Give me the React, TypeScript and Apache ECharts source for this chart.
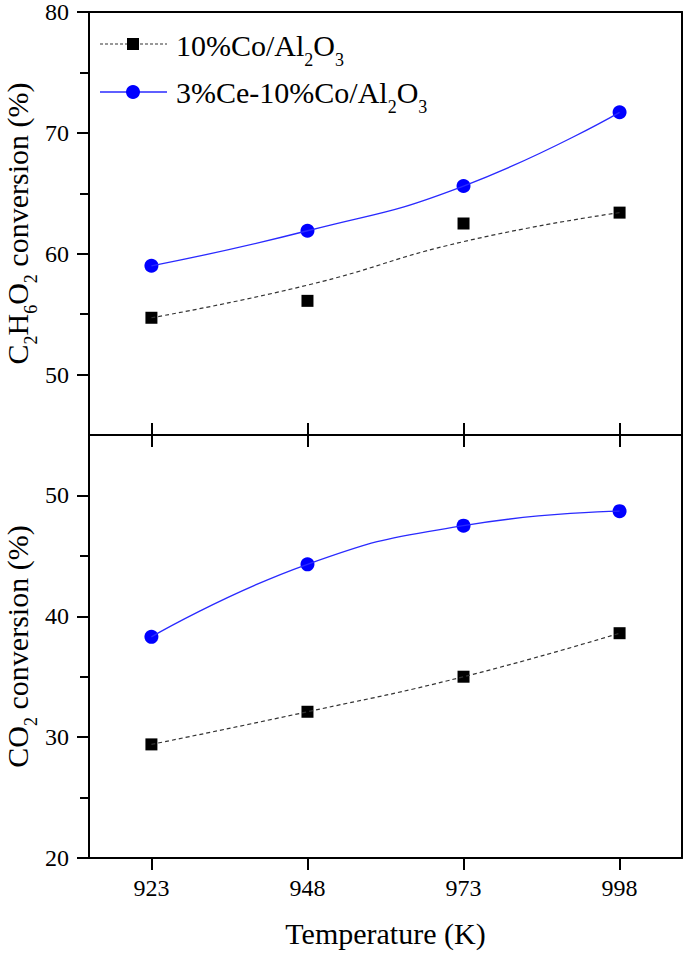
import React, { useEffect, useRef } from 'react';
import * as echarts from 'echarts';

// ---- data ----
const temperatures = [923, 948, 973, 998];
const tickTemps = [923, 948, 973, 998];
const c2h6o2Co = [54.7, 56.1, 62.5, 63.4];
const c2h6o2CoFit = [54.7, 57.4, 61.0, 63.4];
const c2h6o2CeCo = [59.0, 61.9, 65.6, 71.7];
const co2Co = [29.4, 32.1, 35.0, 38.6];
const co2CeCo = [38.3, 44.3, 47.5, 48.7];
const topMajorTicks = [50, 60, 70, 80];
const topMinorTicks = [55, 65, 75];
const bottomMajorTicks = [20, 30, 40, 50];
const bottomMinorTicks = [25, 35, 45];
const legendNames = ['10%Co/Al_2O_3', '3%Ce-10%Co/Al_2O_3'];
const topTitle = 'C_2H_6O_2 conversion (%)';
const bottomTitle = 'CO_2 conversion (%)';
const xTitle = 'Temperature (K)';

const FONT = 'Liberation Serif';
const BLUE = '#0000ff';
const LINE_BLUE = '#2a2aff';
const DASH = '#333333';

type Seg = { t: string; sub: boolean };
function parseSegs(s: string): Seg[] {
  const segs: Seg[] = [];
  for (let i = 0; i < s.length; i++) {
    if (s[i] === '_') {
      segs.push({ t: s[i + 1], sub: true });
      i++;
    } else if (segs.length && !segs[segs.length - 1].sub) {
      segs[segs.length - 1].t += s[i];
    } else {
      segs.push({ t: s[i], sub: false });
    }
  }
  return segs;
}

let ctx: CanvasRenderingContext2D | null = null;
function measure(t: string, size: number): number {
  if (!ctx) ctx = document.createElement('canvas').getContext('2d');
  if (!ctx) return t.length * size * 0.5;
  ctx.font = `${size}px "${FONT}"`;
  return ctx.measureText(t).width;
}

function subText(markup: string, o: { x: number; y: number; size: number; subSize: number; subDy: number; rotation?: number; center?: boolean }) {
  const segs = parseSegs(markup);
  let cx = 0;
  const children: any[] = [];
  for (const s of segs) {
    const size = s.sub ? o.subSize : o.size;
    const w = measure(s.t, size);
    children.push({
      type: 'text',
      x: cx,
      y: s.sub ? o.subDy : 0,
      silent: true,
      style: { text: s.t, fontSize: size, fontFamily: FONT, fill: '#000', align: 'left', verticalAlign: 'middle' },
    });
    cx += w;
  }
  if (o.center) children.forEach((c) => (c.x -= cx / 2));
  return { type: 'group', x: o.x, y: o.y, rotation: o.rotation || 0, children };
}

const pairs = (ys: number[]) => temperatures.map((t, i) => [t, ys[i]]);

const lineStyle = { color: '#000', width: 2 };
const labelStyle = { fontSize: 24, fontFamily: FONT, color: '#000' };

function xAxisDef(grid: number, position: string, ticks: boolean, labels: boolean, extra: any = {}) {
  return {
    gridIndex: grid,
    type: 'value',
    position,
    min: 913,
    max: 1008,
    axisLine: { show: true, onZero: false, lineStyle },
    axisTick: { show: ticks, inside: false, length: 12, lineStyle, customValues: tickTemps },
    axisLabel: labels ? { show: true, customValues: tickTemps, ...labelStyle, margin: 18 } : { show: false },
    splitLine: { show: false },
    ...extra,
  };
}

function yAxisDefs(grid: number, min: number, max: number, major: number[], minor: number[]) {
  return [
    {
      gridIndex: grid, type: 'value', position: 'left', min, max,
      axisLine: { show: true, onZero: false, lineStyle },
      axisTick: { show: true, inside: false, length: 12, lineStyle, customValues: major },
      axisLabel: { show: true, customValues: major, ...labelStyle, margin: 20 },
      splitLine: { show: false },
    },
    {
      gridIndex: grid, type: 'value', position: 'left', min, max,
      axisLine: { show: false },
      axisTick: { show: true, inside: false, length: 9, lineStyle, customValues: minor },
      axisLabel: { show: false },
      splitLine: { show: false },
    },
    {
      gridIndex: grid, type: 'value', position: 'right', min, max,
      axisLine: { show: true, onZero: false, lineStyle },
      axisTick: { show: false },
      axisLabel: { show: false },
      splitLine: { show: false },
    },
  ];
}

function panelSeries(xi: number, yi: number, coLine: number[], coPts: number[], ceVals: number[], coHalo: boolean) {
  const s: any[] = [
    { type: 'line', xAxisIndex: xi, yAxisIndex: yi, data: pairs(coLine), smooth: true, symbol: 'none', silent: true,
      lineStyle: { color: DASH, width: 1.2, type: [4, 3], opacity: 1 } },
    { type: 'line', xAxisIndex: xi, yAxisIndex: yi, data: pairs(ceVals), smooth: true, symbol: 'none', silent: true,
      lineStyle: { color: LINE_BLUE, width: 1.3, opacity: 1 } },
    { type: 'scatter', xAxisIndex: xi, yAxisIndex: yi, data: pairs(ceVals), symbol: 'circle', symbolSize: 26, silent: true,
      itemStyle: { color: '#fff', opacity: 1 } },
  ];
  if (coHalo) {
    s.push({ type: 'scatter', xAxisIndex: xi, yAxisIndex: yi, data: pairs(coPts), symbol: 'circle', symbolSize: 26, silent: true,
      itemStyle: { color: '#fff', opacity: 1 } });
  }
  s.push(
    { type: 'scatter', xAxisIndex: xi, yAxisIndex: yi, data: pairs(coPts), symbol: 'rect', symbolSize: 12, silent: true,
      itemStyle: { color: '#000', opacity: 1 } },
    { type: 'scatter', xAxisIndex: xi, yAxisIndex: yi, data: pairs(ceVals), symbol: 'circle', symbolSize: 14, silent: true,
      itemStyle: { color: BLUE, opacity: 1 } },
  );
  return s;
}

export default function App() {
  const ref = useRef<HTMLDivElement>(null);
  useEffect(() => {
    if (!ref.current) return;
    const chart = echarts.init(ref.current, undefined, { renderer: 'svg' });
    const option: any = {
      animation: false,
      backgroundColor: '#fff',
      textStyle: { fontFamily: FONT },
      grid: [
        { left: 89, right: 3, top: 12, height: 423, outerBoundsMode: 'none' },
        { left: 89, right: 3, top: 435, height: 423, outerBoundsMode: 'none' },
      ],
      xAxis: [
        xAxisDef(0, 'bottom', true, false),
        xAxisDef(0, 'top', false, false),
        xAxisDef(1, 'bottom', true, true, {
          name: xTitle, nameLocation: 'middle', nameGap: 60,
          nameTextStyle: { fontSize: 30, fontFamily: FONT, color: '#000' },
        }),
        xAxisDef(1, 'top', true, false),
      ],
      yAxis: [
        ...yAxisDefs(0, 45, 80, topMajorTicks, topMinorTicks),
        ...yAxisDefs(1, 20, 55, bottomMajorTicks, bottomMinorTicks),
      ],
      series: [
        ...panelSeries(0, 0, c2h6o2CoFit, c2h6o2Co, c2h6o2CeCo, false),
        ...panelSeries(2, 3, co2Co, co2Co, co2CeCo, true),
      ],
      graphic: [
        // legend
        { type: 'line', silent: true, shape: { x1: 100, y1: 44, x2: 167, y2: 44 }, style: { stroke: DASH, lineWidth: 1.2, lineDash: [3, 2] } },
        { type: 'rect', silent: true, shape: { x: 127, y: 38, width: 12, height: 12 }, style: { fill: '#000' } },
        subText(legendNames[0], { x: 176, y: 45, size: 30, subSize: 18, subDy: 15 }),
        { type: 'line', silent: true, shape: { x1: 100, y1: 92, x2: 167, y2: 92 }, style: { stroke: LINE_BLUE, lineWidth: 1.3 } },
        { type: 'circle', silent: true, shape: { cx: 133, cy: 92, r: 7 }, style: { fill: BLUE } },
        subText(legendNames[1], { x: 176, y: 92, size: 30, subSize: 18, subDy: 15 }),
        // y titles
        subText(topTitle, { x: 17, y: 223.5, size: 30, subSize: 18, subDy: 14, rotation: Math.PI / 2, center: true }),
        subText(bottomTitle, { x: 17, y: 646.5, size: 30, subSize: 18, subDy: 14, rotation: Math.PI / 2, center: true }),
      ],
    };
    chart.setOption(option);
    return () => chart.dispose();
  }, []);
  return <div ref={ref} style={{ position: 'absolute', left: 0, top: 0, width: 685, height: 954 }} />;
}
